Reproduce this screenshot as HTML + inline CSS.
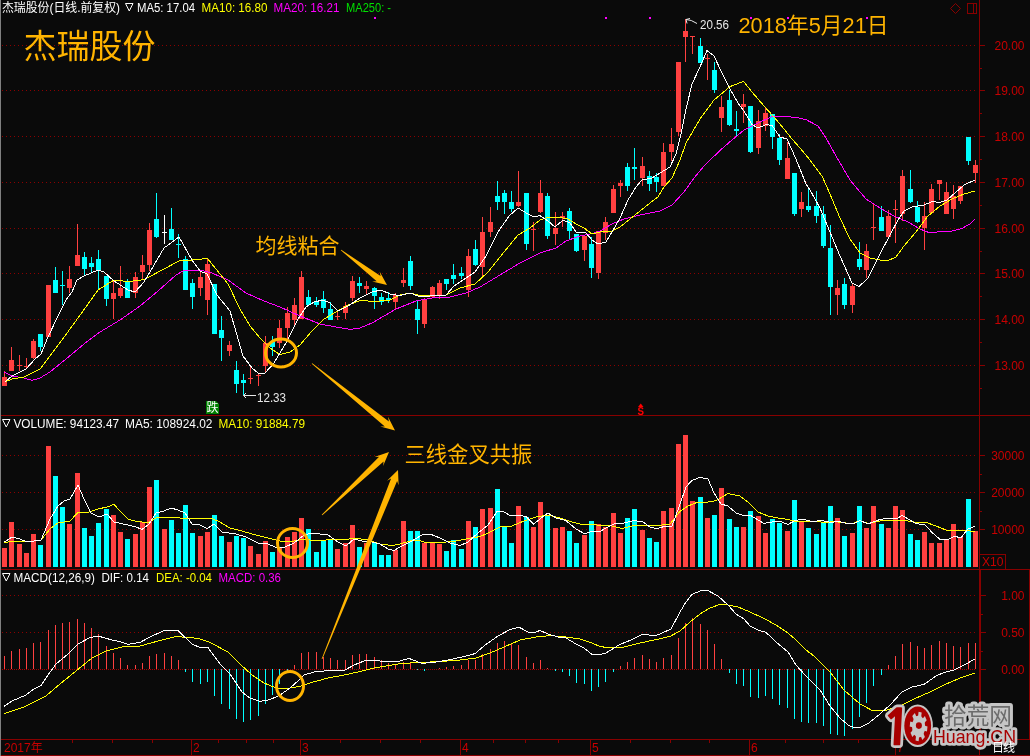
<!DOCTYPE html>
<html lang="zh"><head><meta charset="utf-8"><title>杰瑞股份 日线</title>
<style>html,body{margin:0;padding:0;background:#0a0a0a;overflow:hidden}body{width:1030px;height:756px}</style></head>
<body>
<svg width="1030" height="756" viewBox="0 0 1030 756" style="display:block;font-family:'Liberation Sans','Noto Sans CJK SC',sans-serif">
<rect width="1030" height="756" fill="#0a0a0a"/>
<rect x="0" y="0" width="1" height="756" fill="#808080" shape-rendering="crispEdges"/>
<g shape-rendering="crispEdges" stroke="#8c0000" stroke-width="1" stroke-dasharray="1,3">
<line x1="2" x2="976" y1="45.5" y2="45.5"/>
<line x1="2" x2="976" y1="90.5" y2="90.5"/>
<line x1="2" x2="976" y1="136.5" y2="136.5"/>
<line x1="2" x2="976" y1="182.5" y2="182.5"/>
<line x1="2" x2="976" y1="228.5" y2="228.5"/>
<line x1="2" x2="976" y1="273.5" y2="273.5"/>
<line x1="2" x2="976" y1="319.5" y2="319.5"/>
<line x1="2" x2="976" y1="365.5" y2="365.5"/>
<line x1="2" x2="976" y1="455.5" y2="455.5"/>
<line x1="2" x2="976" y1="492.5" y2="492.5"/>
<line x1="2" x2="976" y1="529.5" y2="529.5"/>
<line x1="2" x2="976" y1="595.5" y2="595.5"/>
<line x1="2" x2="976" y1="632.5" y2="632.5"/>
<line x1="2" x2="976" y1="669.5" y2="669.5" stroke-dasharray="1,1" stroke="#a00000"/>
</g>
<g shape-rendering="crispEdges" fill="#880000">
<rect x="1" y="415" width="1029" height="1"/>
<rect x="1" y="569" width="1029" height="1"/>
<rect x="1" y="739" width="1029" height="1"/>
<rect x="1" y="755" width="1029" height="1"/>
<rect x="979" y="0" width="1" height="756"/>
<rect x="980" y="570" width="1" height="169"/>
<rect x="1029" y="570" width="1" height="169"/>
<rect x="980" y="45" width="5" height="1"/>
<rect x="980" y="90" width="5" height="1"/>
<rect x="980" y="136" width="5" height="1"/>
<rect x="980" y="182" width="5" height="1"/>
<rect x="980" y="228" width="5" height="1"/>
<rect x="980" y="273" width="5" height="1"/>
<rect x="980" y="319" width="5" height="1"/>
<rect x="980" y="365" width="5" height="1"/>
<rect x="980" y="68" width="2" height="1"/>
<rect x="980" y="113" width="2" height="1"/>
<rect x="980" y="159" width="2" height="1"/>
<rect x="980" y="205" width="2" height="1"/>
<rect x="980" y="251" width="2" height="1"/>
<rect x="980" y="296" width="2" height="1"/>
<rect x="980" y="342" width="2" height="1"/>
<rect x="980" y="388" width="2" height="1"/>
<rect x="980" y="455" width="5" height="1"/>
<rect x="980" y="492" width="5" height="1"/>
<rect x="980" y="529" width="5" height="1"/>
<rect x="980" y="474" width="2" height="1"/>
<rect x="980" y="511" width="2" height="1"/>
<rect x="981" y="595" width="5" height="1"/>
<rect x="981" y="632" width="5" height="1"/>
<rect x="981" y="669" width="5" height="1"/>
<rect x="981" y="614" width="2" height="1"/>
<rect x="981" y="651" width="2" height="1"/>
<rect x="191" y="740" width="1" height="15"/>
<rect x="300" y="740" width="1" height="15"/>
<rect x="460" y="740" width="1" height="15"/>
<rect x="590" y="740" width="1" height="15"/>
<rect x="749" y="740" width="1" height="15"/>
<rect x="895" y="740" width="1" height="15"/>
<rect x="72" y="740" width="1" height="3"/>
<rect x="112" y="740" width="1" height="3"/>
<rect x="152" y="740" width="1" height="3"/>
<rect x="218" y="740" width="1" height="3"/>
<rect x="246" y="740" width="1" height="3"/>
<rect x="273" y="740" width="1" height="3"/>
<rect x="340" y="740" width="1" height="3"/>
<rect x="380" y="740" width="1" height="3"/>
<rect x="420" y="740" width="1" height="3"/>
<rect x="493" y="740" width="1" height="3"/>
<rect x="525" y="740" width="1" height="3"/>
<rect x="558" y="740" width="1" height="3"/>
<rect x="630" y="740" width="1" height="3"/>
<rect x="670" y="740" width="1" height="3"/>
<rect x="709" y="740" width="1" height="3"/>
<rect x="785" y="740" width="1" height="3"/>
<rect x="823" y="740" width="1" height="3"/>
<rect x="858" y="740" width="1" height="3"/>
<rect x="932" y="740" width="1" height="3"/>
<rect x="980" y="554" width="26" height="1"/><rect x="1005" y="554" width="1" height="15"/>
</g>
<g fill="#c80000" font-size="12px" text-anchor="end">
<text x="1024.5" y="49.5">20.00</text>
<text x="1024.5" y="94.5">19.00</text>
<text x="1024.5" y="140.5">18.00</text>
<text x="1024.5" y="186.5">17.00</text>
<text x="1024.5" y="232.5">16.00</text>
<text x="1024.5" y="277.5">15.00</text>
<text x="1024.5" y="323.5">14.00</text>
<text x="1024.5" y="369.5">13.00</text>
<text x="1024.5" y="459.5">30000</text>
<text x="1024.5" y="496.5">20000</text>
<text x="1024.5" y="533.5">10000</text>
<text x="1024.5" y="599.5">1.00</text>
<text x="1024.5" y="636.5">0.50</text>
<text x="1024.5" y="673.5">0.00</text>
</g>
<text x="982" y="566" fill="#c80000" font-size="12px">X10</text>
<g fill="#c80000" font-size="12px">
<text x="4" y="752">2017年</text>
<text x="193" y="752">2</text>
<text x="302" y="752">3</text>
<text x="462" y="752">4</text>
<text x="592" y="752">5</text>
<text x="751" y="752">6</text>
<text x="897" y="752">7</text>
</g>
<g fill="none" stroke="#880000" stroke-width="1" shape-rendering="crispEdges">
<path d="M950.5 8.5 L955.5 3.5 L960.5 8.5 L955.5 13.5 Z" shape-rendering="auto"/>
<rect x="967.5" y="3.5" width="9" height="10"/><line x1="973.5" y1="3.5" x2="973.5" y2="13.5"/>
</g>
<g shape-rendering="crispEdges">
<rect x="4" y="371" width="1" height="15" fill="#ff4040"/>
<rect x="2" y="377" width="5" height="9" fill="#ff4040"/>
<rect x="11" y="347" width="1" height="24" fill="#ff4040"/>
<rect x="9" y="360" width="5" height="11" fill="#ff4040"/>
<rect x="19" y="355" width="1" height="16" fill="#ff4040"/>
<rect x="17" y="365" width="5" height="1" fill="#ff4040"/>
<rect x="26" y="358" width="1" height="11" fill="#ff4040"/>
<rect x="24" y="366" width="5" height="1" fill="#ff4040"/>
<rect x="33" y="339" width="1" height="20" fill="#ff4040"/>
<rect x="31" y="341" width="5" height="17" fill="#ff4040"/>
<rect x="40" y="334" width="1" height="17" fill="#00ffff"/>
<rect x="38" y="334" width="5" height="13" fill="#00ffff"/>
<rect x="48" y="285" width="1" height="52" fill="#ff4040"/>
<rect x="46" y="285" width="5" height="52" fill="#ff4040"/>
<rect x="55" y="267" width="1" height="26" fill="#00ffff"/>
<rect x="53" y="280" width="5" height="13" fill="#00ffff"/>
<rect x="62" y="271" width="1" height="34" fill="#00ffff"/>
<rect x="60" y="285" width="5" height="1" fill="#00ffff"/>
<rect x="69" y="266" width="1" height="27" fill="#ff4040"/>
<rect x="67" y="279" width="5" height="9" fill="#ff4040"/>
<rect x="77" y="224" width="1" height="42" fill="#ff4040"/>
<rect x="75" y="255" width="5" height="11" fill="#ff4040"/>
<rect x="84" y="252" width="1" height="23" fill="#00ffff"/>
<rect x="82" y="257" width="5" height="12" fill="#00ffff"/>
<rect x="91" y="257" width="1" height="16" fill="#00ffff"/>
<rect x="89" y="263" width="5" height="4" fill="#00ffff"/>
<rect x="98" y="250" width="1" height="39" fill="#00ffff"/>
<rect x="96" y="259" width="5" height="11" fill="#00ffff"/>
<rect x="106" y="276" width="1" height="30" fill="#00ffff"/>
<rect x="104" y="276" width="5" height="23" fill="#00ffff"/>
<rect x="113" y="281" width="1" height="38" fill="#ff4040"/>
<rect x="111" y="293" width="5" height="6" fill="#ff4040"/>
<rect x="120" y="266" width="1" height="32" fill="#ff4040"/>
<rect x="118" y="288" width="5" height="8" fill="#ff4040"/>
<rect x="127" y="279" width="1" height="19" fill="#00ffff"/>
<rect x="125" y="282" width="5" height="16" fill="#00ffff"/>
<rect x="135" y="272" width="1" height="26" fill="#ff4040"/>
<rect x="133" y="277" width="5" height="16" fill="#ff4040"/>
<rect x="142" y="255" width="1" height="25" fill="#ff4040"/>
<rect x="140" y="265" width="5" height="7" fill="#ff4040"/>
<rect x="149" y="223" width="1" height="48" fill="#ff4040"/>
<rect x="147" y="230" width="5" height="35" fill="#ff4040"/>
<rect x="156" y="193" width="1" height="45" fill="#00ffff"/>
<rect x="154" y="219" width="5" height="18" fill="#00ffff"/>
<rect x="164" y="215" width="1" height="29" fill="#ffffff"/>
<rect x="162" y="232" width="5" height="1" fill="#ffffff"/>
<rect x="171" y="208" width="1" height="32" fill="#00ffff"/>
<rect x="169" y="229" width="5" height="11" fill="#00ffff"/>
<rect x="178" y="234" width="1" height="24" fill="#00ffff"/>
<rect x="176" y="244" width="5" height="1" fill="#00ffff"/>
<rect x="185" y="256" width="1" height="34" fill="#00ffff"/>
<rect x="183" y="259" width="5" height="31" fill="#00ffff"/>
<rect x="192" y="279" width="1" height="30" fill="#00ffff"/>
<rect x="190" y="283" width="5" height="14" fill="#00ffff"/>
<rect x="200" y="270" width="1" height="26" fill="#ff4040"/>
<rect x="198" y="277" width="5" height="11" fill="#ff4040"/>
<rect x="207" y="259" width="1" height="56" fill="#ff4040"/>
<rect x="205" y="264" width="5" height="36" fill="#ff4040"/>
<rect x="214" y="284" width="1" height="50" fill="#00ffff"/>
<rect x="212" y="284" width="5" height="50" fill="#00ffff"/>
<rect x="221" y="316" width="1" height="45" fill="#00ffff"/>
<rect x="219" y="330" width="5" height="8" fill="#00ffff"/>
<rect x="229" y="341" width="1" height="15" fill="#ff4040"/>
<rect x="227" y="345" width="5" height="6" fill="#ff4040"/>
<rect x="236" y="361" width="1" height="32" fill="#00ffff"/>
<rect x="234" y="370" width="5" height="14" fill="#00ffff"/>
<rect x="243" y="374" width="1" height="21" fill="#00ffff"/>
<rect x="241" y="380" width="5" height="3" fill="#00ffff"/>
<rect x="250" y="367" width="1" height="17" fill="#ff4040"/>
<rect x="248" y="378" width="5" height="1" fill="#ff4040"/>
<rect x="258" y="373" width="1" height="13" fill="#ff4040"/>
<rect x="256" y="375" width="5" height="1" fill="#ff4040"/>
<rect x="265" y="336" width="1" height="36" fill="#ff4040"/>
<rect x="263" y="343" width="5" height="23" fill="#ff4040"/>
<rect x="272" y="336" width="1" height="20" fill="#00ffff"/>
<rect x="270" y="342" width="5" height="5" fill="#00ffff"/>
<rect x="279" y="320" width="1" height="28" fill="#ff4040"/>
<rect x="277" y="328" width="5" height="15" fill="#ff4040"/>
<rect x="287" y="307" width="1" height="32" fill="#ff4040"/>
<rect x="285" y="313" width="5" height="15" fill="#ff4040"/>
<rect x="294" y="298" width="1" height="28" fill="#ff4040"/>
<rect x="292" y="305" width="5" height="15" fill="#ff4040"/>
<rect x="301" y="271" width="1" height="48" fill="#ff4040"/>
<rect x="299" y="277" width="5" height="42" fill="#ff4040"/>
<rect x="308" y="290" width="1" height="15" fill="#00ffff"/>
<rect x="306" y="297" width="5" height="8" fill="#00ffff"/>
<rect x="316" y="297" width="1" height="10" fill="#00ffff"/>
<rect x="314" y="302" width="5" height="3" fill="#00ffff"/>
<rect x="323" y="291" width="1" height="22" fill="#00ffff"/>
<rect x="321" y="299" width="5" height="9" fill="#00ffff"/>
<rect x="330" y="302" width="1" height="18" fill="#00ffff"/>
<rect x="328" y="309" width="5" height="11" fill="#00ffff"/>
<rect x="337" y="311" width="1" height="9" fill="#ff4040"/>
<rect x="335" y="316" width="5" height="1" fill="#ff4040"/>
<rect x="345" y="302" width="1" height="17" fill="#ff4040"/>
<rect x="343" y="306" width="5" height="7" fill="#ff4040"/>
<rect x="352" y="276" width="1" height="25" fill="#ff4040"/>
<rect x="350" y="281" width="5" height="17" fill="#ff4040"/>
<rect x="359" y="277" width="1" height="16" fill="#00ffff"/>
<rect x="357" y="283" width="5" height="3" fill="#00ffff"/>
<rect x="366" y="281" width="1" height="13" fill="#ff4040"/>
<rect x="364" y="286" width="5" height="3" fill="#ff4040"/>
<rect x="374" y="287" width="1" height="22" fill="#00ffff"/>
<rect x="372" y="288" width="5" height="8" fill="#00ffff"/>
<rect x="381" y="293" width="1" height="12" fill="#00ffff"/>
<rect x="379" y="297" width="5" height="5" fill="#00ffff"/>
<rect x="388" y="292" width="1" height="11" fill="#00ffff"/>
<rect x="386" y="298" width="5" height="2" fill="#00ffff"/>
<rect x="395" y="293" width="1" height="17" fill="#ff4040"/>
<rect x="393" y="295" width="5" height="7" fill="#ff4040"/>
<rect x="403" y="268" width="1" height="19" fill="#ff4040"/>
<rect x="401" y="280" width="5" height="3" fill="#ff4040"/>
<rect x="410" y="256" width="1" height="34" fill="#00ffff"/>
<rect x="408" y="261" width="5" height="25" fill="#00ffff"/>
<rect x="417" y="300" width="1" height="34" fill="#00ffff"/>
<rect x="415" y="309" width="5" height="11" fill="#00ffff"/>
<rect x="424" y="298" width="1" height="30" fill="#ff4040"/>
<rect x="422" y="300" width="5" height="24" fill="#ff4040"/>
<rect x="432" y="286" width="1" height="12" fill="#ff4040"/>
<rect x="430" y="287" width="5" height="10" fill="#ff4040"/>
<rect x="439" y="280" width="1" height="19" fill="#ff4040"/>
<rect x="437" y="283" width="5" height="13" fill="#ff4040"/>
<rect x="446" y="279" width="1" height="11" fill="#00ffff"/>
<rect x="444" y="279" width="5" height="5" fill="#00ffff"/>
<rect x="453" y="264" width="1" height="20" fill="#00ffff"/>
<rect x="451" y="275" width="5" height="4" fill="#00ffff"/>
<rect x="461" y="267" width="1" height="12" fill="#00ffff"/>
<rect x="459" y="273" width="5" height="3" fill="#00ffff"/>
<rect x="468" y="249" width="1" height="48" fill="#ff4040"/>
<rect x="466" y="256" width="5" height="34" fill="#ff4040"/>
<rect x="475" y="240" width="1" height="26" fill="#00ffff"/>
<rect x="473" y="249" width="5" height="16" fill="#00ffff"/>
<rect x="482" y="217" width="1" height="59" fill="#ff4040"/>
<rect x="480" y="232" width="5" height="35" fill="#ff4040"/>
<rect x="490" y="207" width="1" height="30" fill="#ff4040"/>
<rect x="488" y="222" width="5" height="10" fill="#ff4040"/>
<rect x="497" y="181" width="1" height="29" fill="#00ffff"/>
<rect x="495" y="196" width="5" height="6" fill="#00ffff"/>
<rect x="504" y="190" width="1" height="24" fill="#00ffff"/>
<rect x="502" y="193" width="5" height="9" fill="#00ffff"/>
<rect x="511" y="191" width="1" height="21" fill="#00ffff"/>
<rect x="509" y="202" width="5" height="7" fill="#00ffff"/>
<rect x="518" y="171" width="1" height="36" fill="#ff4040"/>
<rect x="516" y="202" width="5" height="4" fill="#ff4040"/>
<rect x="526" y="193" width="1" height="57" fill="#00ffff"/>
<rect x="524" y="193" width="5" height="51" fill="#00ffff"/>
<rect x="533" y="222" width="1" height="29" fill="#ff4040"/>
<rect x="531" y="229" width="5" height="1" fill="#ff4040"/>
<rect x="540" y="180" width="1" height="33" fill="#ff4040"/>
<rect x="538" y="193" width="5" height="19" fill="#ff4040"/>
<rect x="547" y="193" width="1" height="46" fill="#00ffff"/>
<rect x="545" y="196" width="5" height="40" fill="#00ffff"/>
<rect x="555" y="212" width="1" height="33" fill="#ff4040"/>
<rect x="553" y="228" width="5" height="6" fill="#ff4040"/>
<rect x="562" y="212" width="1" height="15" fill="#ff4040"/>
<rect x="560" y="216" width="5" height="2" fill="#ff4040"/>
<rect x="569" y="208" width="1" height="31" fill="#00ffff"/>
<rect x="567" y="211" width="5" height="20" fill="#00ffff"/>
<rect x="576" y="234" width="1" height="18" fill="#00ffff"/>
<rect x="574" y="234" width="5" height="17" fill="#00ffff"/>
<rect x="584" y="236" width="1" height="25" fill="#ff4040"/>
<rect x="582" y="236" width="5" height="14" fill="#ff4040"/>
<rect x="591" y="237" width="1" height="41" fill="#00ffff"/>
<rect x="589" y="244" width="5" height="24" fill="#00ffff"/>
<rect x="598" y="231" width="1" height="48" fill="#ff4040"/>
<rect x="596" y="231" width="5" height="42" fill="#ff4040"/>
<rect x="605" y="217" width="1" height="23" fill="#ff4040"/>
<rect x="603" y="222" width="5" height="11" fill="#ff4040"/>
<rect x="613" y="185" width="1" height="28" fill="#ff4040"/>
<rect x="611" y="189" width="5" height="24" fill="#ff4040"/>
<rect x="620" y="180" width="1" height="17" fill="#ff4040"/>
<rect x="618" y="183" width="5" height="3" fill="#ff4040"/>
<rect x="627" y="163" width="1" height="28" fill="#00ffff"/>
<rect x="625" y="167" width="5" height="19" fill="#00ffff"/>
<rect x="634" y="148" width="1" height="32" fill="#00ffff"/>
<rect x="632" y="167" width="5" height="2" fill="#00ffff"/>
<rect x="642" y="157" width="1" height="29" fill="#ff4040"/>
<rect x="640" y="166" width="5" height="12" fill="#ff4040"/>
<rect x="649" y="171" width="1" height="20" fill="#00ffff"/>
<rect x="647" y="176" width="5" height="8" fill="#00ffff"/>
<rect x="656" y="173" width="1" height="19" fill="#00ffff"/>
<rect x="654" y="177" width="5" height="5" fill="#00ffff"/>
<rect x="663" y="143" width="1" height="43" fill="#ff4040"/>
<rect x="661" y="152" width="5" height="34" fill="#ff4040"/>
<rect x="671" y="128" width="1" height="33" fill="#ff4040"/>
<rect x="669" y="144" width="5" height="8" fill="#ff4040"/>
<rect x="678" y="62" width="1" height="74" fill="#ff4040"/>
<rect x="676" y="62" width="5" height="70" fill="#ff4040"/>
<rect x="685" y="19" width="1" height="43" fill="#ff4040"/>
<rect x="683" y="31" width="5" height="6" fill="#ff4040"/>
<rect x="692" y="36" width="1" height="18" fill="#ff4040"/>
<rect x="690" y="36" width="5" height="1" fill="#ff4040"/>
<rect x="700" y="38" width="1" height="25" fill="#00ffff"/>
<rect x="698" y="46" width="5" height="17" fill="#00ffff"/>
<rect x="707" y="54" width="1" height="26" fill="#ff4040"/>
<rect x="705" y="58" width="5" height="1" fill="#ff4040"/>
<rect x="714" y="62" width="1" height="31" fill="#00ffff"/>
<rect x="712" y="70" width="5" height="20" fill="#00ffff"/>
<rect x="721" y="96" width="1" height="36" fill="#ff4040"/>
<rect x="719" y="107" width="5" height="11" fill="#ff4040"/>
<rect x="729" y="90" width="1" height="36" fill="#00ffff"/>
<rect x="727" y="100" width="5" height="25" fill="#00ffff"/>
<rect x="736" y="111" width="1" height="25" fill="#00ffff"/>
<rect x="734" y="129" width="5" height="2" fill="#00ffff"/>
<rect x="743" y="94" width="1" height="29" fill="#ff4040"/>
<rect x="741" y="104" width="5" height="3" fill="#ff4040"/>
<rect x="750" y="106" width="1" height="47" fill="#00ffff"/>
<rect x="748" y="106" width="5" height="46" fill="#00ffff"/>
<rect x="758" y="110" width="1" height="44" fill="#ff4040"/>
<rect x="756" y="121" width="5" height="27" fill="#ff4040"/>
<rect x="765" y="107" width="1" height="24" fill="#ff4040"/>
<rect x="763" y="113" width="5" height="13" fill="#ff4040"/>
<rect x="772" y="114" width="1" height="35" fill="#00ffff"/>
<rect x="770" y="114" width="5" height="23" fill="#00ffff"/>
<rect x="779" y="134" width="1" height="31" fill="#00ffff"/>
<rect x="777" y="138" width="5" height="22" fill="#00ffff"/>
<rect x="787" y="142" width="1" height="37" fill="#ff4040"/>
<rect x="785" y="158" width="5" height="21" fill="#ff4040"/>
<rect x="794" y="173" width="1" height="43" fill="#00ffff"/>
<rect x="792" y="173" width="5" height="41" fill="#00ffff"/>
<rect x="801" y="192" width="1" height="25" fill="#ff4040"/>
<rect x="799" y="202" width="5" height="7" fill="#ff4040"/>
<rect x="808" y="189" width="1" height="23" fill="#00ffff"/>
<rect x="806" y="206" width="5" height="4" fill="#00ffff"/>
<rect x="816" y="191" width="1" height="32" fill="#00ffff"/>
<rect x="814" y="206" width="5" height="10" fill="#00ffff"/>
<rect x="823" y="206" width="1" height="42" fill="#00ffff"/>
<rect x="821" y="214" width="5" height="32" fill="#00ffff"/>
<rect x="830" y="225" width="1" height="90" fill="#00ffff"/>
<rect x="828" y="248" width="5" height="39" fill="#00ffff"/>
<rect x="837" y="280" width="1" height="35" fill="#ff4040"/>
<rect x="835" y="288" width="5" height="7" fill="#ff4040"/>
<rect x="844" y="278" width="1" height="31" fill="#00ffff"/>
<rect x="842" y="284" width="5" height="21" fill="#00ffff"/>
<rect x="852" y="283" width="1" height="30" fill="#ff4040"/>
<rect x="850" y="286" width="5" height="19" fill="#ff4040"/>
<rect x="859" y="242" width="1" height="28" fill="#00ffff"/>
<rect x="857" y="259" width="5" height="8" fill="#00ffff"/>
<rect x="866" y="244" width="1" height="34" fill="#ff4040"/>
<rect x="864" y="251" width="5" height="19" fill="#ff4040"/>
<rect x="873" y="204" width="1" height="36" fill="#ff4040"/>
<rect x="871" y="227" width="5" height="1" fill="#ff4040"/>
<rect x="881" y="206" width="1" height="25" fill="#00ffff"/>
<rect x="879" y="217" width="5" height="14" fill="#00ffff"/>
<rect x="888" y="210" width="1" height="27" fill="#ff4040"/>
<rect x="886" y="216" width="5" height="21" fill="#ff4040"/>
<rect x="895" y="200" width="1" height="43" fill="#ff4040"/>
<rect x="893" y="209" width="5" height="1" fill="#ff4040"/>
<rect x="902" y="170" width="1" height="51" fill="#ff4040"/>
<rect x="900" y="176" width="5" height="38" fill="#ff4040"/>
<rect x="910" y="170" width="1" height="33" fill="#00ffff"/>
<rect x="908" y="189" width="5" height="13" fill="#00ffff"/>
<rect x="917" y="201" width="1" height="22" fill="#00ffff"/>
<rect x="915" y="207" width="5" height="15" fill="#00ffff"/>
<rect x="924" y="202" width="1" height="48" fill="#ff4040"/>
<rect x="922" y="216" width="5" height="12" fill="#ff4040"/>
<rect x="931" y="184" width="1" height="29" fill="#ff4040"/>
<rect x="929" y="189" width="5" height="24" fill="#ff4040"/>
<rect x="939" y="180" width="1" height="20" fill="#ff4040"/>
<rect x="937" y="180" width="5" height="4" fill="#ff4040"/>
<rect x="946" y="182" width="1" height="32" fill="#ff4040"/>
<rect x="944" y="192" width="5" height="22" fill="#ff4040"/>
<rect x="953" y="185" width="1" height="34" fill="#ff4040"/>
<rect x="951" y="196" width="5" height="13" fill="#ff4040"/>
<rect x="960" y="186" width="1" height="18" fill="#ff4040"/>
<rect x="958" y="186" width="5" height="15" fill="#ff4040"/>
<rect x="968" y="137" width="1" height="28" fill="#00ffff"/>
<rect x="966" y="137" width="5" height="24" fill="#00ffff"/>
<rect x="975" y="160" width="1" height="23" fill="#ff4040"/>
<rect x="973" y="165" width="5" height="8" fill="#ff4040"/>
<rect x="2" y="548" width="5" height="19" fill="#ff4040"/>
<rect x="9" y="522" width="5" height="45" fill="#ff4040"/>
<rect x="17" y="544" width="5" height="23" fill="#ff4040"/>
<rect x="24" y="553" width="5" height="14" fill="#ff4040"/>
<rect x="31" y="534" width="5" height="33" fill="#ff4040"/>
<rect x="38" y="545" width="5" height="22" fill="#00ffff"/>
<rect x="46" y="446" width="5" height="121" fill="#ff4040"/>
<rect x="53" y="476" width="5" height="91" fill="#00ffff"/>
<rect x="60" y="507" width="5" height="60" fill="#00ffff"/>
<rect x="67" y="524" width="5" height="43" fill="#ff4040"/>
<rect x="75" y="473" width="5" height="94" fill="#ff4040"/>
<rect x="82" y="528" width="5" height="39" fill="#00ffff"/>
<rect x="89" y="536" width="5" height="31" fill="#00ffff"/>
<rect x="96" y="523" width="5" height="44" fill="#00ffff"/>
<rect x="104" y="509" width="5" height="58" fill="#00ffff"/>
<rect x="111" y="515" width="5" height="52" fill="#ff4040"/>
<rect x="118" y="532" width="5" height="35" fill="#ff4040"/>
<rect x="125" y="539" width="5" height="28" fill="#00ffff"/>
<rect x="133" y="534" width="5" height="33" fill="#ff4040"/>
<rect x="140" y="522" width="5" height="45" fill="#ff4040"/>
<rect x="147" y="487" width="5" height="80" fill="#ff4040"/>
<rect x="154" y="480" width="5" height="87" fill="#00ffff"/>
<rect x="162" y="529" width="5" height="38" fill="#ff4040"/>
<rect x="169" y="520" width="5" height="47" fill="#00ffff"/>
<rect x="176" y="533" width="5" height="34" fill="#00ffff"/>
<rect x="183" y="505" width="5" height="62" fill="#00ffff"/>
<rect x="190" y="533" width="5" height="34" fill="#00ffff"/>
<rect x="198" y="536" width="5" height="31" fill="#ff4040"/>
<rect x="205" y="532" width="5" height="35" fill="#ff4040"/>
<rect x="212" y="515" width="5" height="52" fill="#00ffff"/>
<rect x="219" y="536" width="5" height="31" fill="#00ffff"/>
<rect x="227" y="542" width="5" height="25" fill="#ff4040"/>
<rect x="234" y="536" width="5" height="31" fill="#00ffff"/>
<rect x="241" y="538" width="5" height="29" fill="#00ffff"/>
<rect x="248" y="546" width="5" height="21" fill="#ff4040"/>
<rect x="256" y="554" width="5" height="13" fill="#ff4040"/>
<rect x="263" y="541" width="5" height="26" fill="#ff4040"/>
<rect x="270" y="552" width="5" height="15" fill="#00ffff"/>
<rect x="277" y="548" width="5" height="19" fill="#ff4040"/>
<rect x="285" y="537" width="5" height="30" fill="#ff4040"/>
<rect x="292" y="532" width="5" height="35" fill="#ff4040"/>
<rect x="299" y="518" width="5" height="49" fill="#ff4040"/>
<rect x="306" y="529" width="5" height="38" fill="#00ffff"/>
<rect x="314" y="552" width="5" height="15" fill="#00ffff"/>
<rect x="321" y="541" width="5" height="26" fill="#00ffff"/>
<rect x="328" y="539" width="5" height="28" fill="#00ffff"/>
<rect x="335" y="549" width="5" height="18" fill="#ff4040"/>
<rect x="343" y="543" width="5" height="24" fill="#ff4040"/>
<rect x="350" y="525" width="5" height="42" fill="#ff4040"/>
<rect x="357" y="547" width="5" height="20" fill="#00ffff"/>
<rect x="364" y="543" width="5" height="24" fill="#ff4040"/>
<rect x="372" y="542" width="5" height="25" fill="#00ffff"/>
<rect x="379" y="555" width="5" height="12" fill="#00ffff"/>
<rect x="386" y="555" width="5" height="12" fill="#00ffff"/>
<rect x="393" y="550" width="5" height="17" fill="#ff4040"/>
<rect x="401" y="521" width="5" height="46" fill="#ff4040"/>
<rect x="408" y="531" width="5" height="36" fill="#00ffff"/>
<rect x="415" y="531" width="5" height="36" fill="#00ffff"/>
<rect x="422" y="543" width="5" height="24" fill="#ff4040"/>
<rect x="430" y="543" width="5" height="24" fill="#ff4040"/>
<rect x="437" y="544" width="5" height="23" fill="#ff4040"/>
<rect x="444" y="551" width="5" height="16" fill="#00ffff"/>
<rect x="451" y="540" width="5" height="27" fill="#00ffff"/>
<rect x="459" y="549" width="5" height="18" fill="#00ffff"/>
<rect x="466" y="521" width="5" height="46" fill="#ff4040"/>
<rect x="473" y="527" width="5" height="40" fill="#00ffff"/>
<rect x="480" y="509" width="5" height="58" fill="#ff4040"/>
<rect x="488" y="508" width="5" height="59" fill="#ff4040"/>
<rect x="495" y="489" width="5" height="78" fill="#00ffff"/>
<rect x="502" y="527" width="5" height="40" fill="#00ffff"/>
<rect x="509" y="543" width="5" height="24" fill="#00ffff"/>
<rect x="516" y="506" width="5" height="61" fill="#ff4040"/>
<rect x="524" y="517" width="5" height="50" fill="#00ffff"/>
<rect x="531" y="527" width="5" height="40" fill="#ff4040"/>
<rect x="538" y="502" width="5" height="65" fill="#ff4040"/>
<rect x="545" y="515" width="5" height="52" fill="#00ffff"/>
<rect x="553" y="528" width="5" height="39" fill="#ff4040"/>
<rect x="560" y="527" width="5" height="40" fill="#ff4040"/>
<rect x="567" y="531" width="5" height="36" fill="#00ffff"/>
<rect x="574" y="543" width="5" height="24" fill="#00ffff"/>
<rect x="582" y="535" width="5" height="32" fill="#ff4040"/>
<rect x="589" y="521" width="5" height="46" fill="#00ffff"/>
<rect x="596" y="524" width="5" height="43" fill="#ff4040"/>
<rect x="603" y="527" width="5" height="40" fill="#ff4040"/>
<rect x="611" y="513" width="5" height="54" fill="#ff4040"/>
<rect x="618" y="533" width="5" height="34" fill="#ff4040"/>
<rect x="625" y="518" width="5" height="49" fill="#00ffff"/>
<rect x="632" y="509" width="5" height="58" fill="#00ffff"/>
<rect x="640" y="530" width="5" height="37" fill="#ff4040"/>
<rect x="647" y="538" width="5" height="29" fill="#00ffff"/>
<rect x="654" y="542" width="5" height="25" fill="#00ffff"/>
<rect x="661" y="511" width="5" height="56" fill="#ff4040"/>
<rect x="669" y="508" width="5" height="59" fill="#ff4040"/>
<rect x="676" y="444" width="5" height="123" fill="#ff4040"/>
<rect x="683" y="435" width="5" height="132" fill="#ff4040"/>
<rect x="690" y="501" width="5" height="66" fill="#ff4040"/>
<rect x="698" y="497" width="5" height="70" fill="#00ffff"/>
<rect x="705" y="518" width="5" height="49" fill="#ff4040"/>
<rect x="712" y="515" width="5" height="52" fill="#00ffff"/>
<rect x="719" y="488" width="5" height="79" fill="#ff4040"/>
<rect x="727" y="519" width="5" height="48" fill="#00ffff"/>
<rect x="734" y="527" width="5" height="40" fill="#00ffff"/>
<rect x="741" y="527" width="5" height="40" fill="#ff4040"/>
<rect x="748" y="511" width="5" height="56" fill="#00ffff"/>
<rect x="756" y="516" width="5" height="51" fill="#ff4040"/>
<rect x="763" y="533" width="5" height="34" fill="#ff4040"/>
<rect x="770" y="519" width="5" height="48" fill="#00ffff"/>
<rect x="777" y="523" width="5" height="44" fill="#00ffff"/>
<rect x="785" y="531" width="5" height="36" fill="#ff4040"/>
<rect x="792" y="500" width="5" height="67" fill="#00ffff"/>
<rect x="799" y="521" width="5" height="46" fill="#ff4040"/>
<rect x="806" y="528" width="5" height="39" fill="#00ffff"/>
<rect x="814" y="534" width="5" height="33" fill="#00ffff"/>
<rect x="821" y="523" width="5" height="44" fill="#00ffff"/>
<rect x="828" y="506" width="5" height="61" fill="#00ffff"/>
<rect x="835" y="518" width="5" height="49" fill="#ff4040"/>
<rect x="842" y="536" width="5" height="31" fill="#00ffff"/>
<rect x="850" y="533" width="5" height="34" fill="#ff4040"/>
<rect x="857" y="506" width="5" height="61" fill="#00ffff"/>
<rect x="864" y="528" width="5" height="39" fill="#ff4040"/>
<rect x="871" y="506" width="5" height="61" fill="#ff4040"/>
<rect x="879" y="524" width="5" height="43" fill="#00ffff"/>
<rect x="886" y="528" width="5" height="39" fill="#ff4040"/>
<rect x="893" y="506" width="5" height="61" fill="#ff4040"/>
<rect x="900" y="510" width="5" height="57" fill="#ff4040"/>
<rect x="908" y="534" width="5" height="33" fill="#00ffff"/>
<rect x="915" y="540" width="5" height="27" fill="#00ffff"/>
<rect x="922" y="532" width="5" height="35" fill="#ff4040"/>
<rect x="929" y="543" width="5" height="24" fill="#ff4040"/>
<rect x="937" y="543" width="5" height="24" fill="#ff4040"/>
<rect x="944" y="539" width="5" height="28" fill="#ff4040"/>
<rect x="951" y="524" width="5" height="43" fill="#ff4040"/>
<rect x="958" y="537" width="5" height="30" fill="#ff4040"/>
<rect x="966" y="499" width="5" height="68" fill="#00ffff"/>
<rect x="973" y="531" width="5" height="36" fill="#ff4040"/>
<rect x="4" y="656" width="1" height="13" fill="#ff4040"/>
<rect x="11" y="651" width="1" height="18" fill="#ff4040"/>
<rect x="19" y="649" width="1" height="20" fill="#ff4040"/>
<rect x="26" y="648" width="1" height="21" fill="#ff4040"/>
<rect x="33" y="643" width="1" height="26" fill="#ff4040"/>
<rect x="40" y="642" width="1" height="27" fill="#ff4040"/>
<rect x="48" y="630" width="1" height="39" fill="#ff4040"/>
<rect x="55" y="625" width="1" height="44" fill="#ff4040"/>
<rect x="62" y="623" width="1" height="46" fill="#ff4040"/>
<rect x="69" y="622" width="1" height="47" fill="#ff4040"/>
<rect x="77" y="619" width="1" height="50" fill="#ff4040"/>
<rect x="84" y="623" width="1" height="46" fill="#ff4040"/>
<rect x="91" y="628" width="1" height="41" fill="#ff4040"/>
<rect x="98" y="634" width="1" height="35" fill="#ff4040"/>
<rect x="106" y="646" width="1" height="23" fill="#ff4040"/>
<rect x="113" y="653" width="1" height="16" fill="#ff4040"/>
<rect x="120" y="658" width="1" height="11" fill="#ff4040"/>
<rect x="127" y="665" width="1" height="4" fill="#ff4040"/>
<rect x="135" y="665" width="1" height="4" fill="#ff4040"/>
<rect x="142" y="663" width="1" height="6" fill="#ff4040"/>
<rect x="149" y="656" width="1" height="13" fill="#ff4040"/>
<rect x="156" y="654" width="1" height="15" fill="#ff4040"/>
<rect x="164" y="653" width="1" height="16" fill="#ff4040"/>
<rect x="171" y="656" width="1" height="13" fill="#ff4040"/>
<rect x="178" y="660" width="1" height="9" fill="#ff4040"/>
<rect x="185" y="669" width="1" height="3" fill="#00ffff"/>
<rect x="192" y="669" width="1" height="13" fill="#00ffff"/>
<rect x="200" y="669" width="1" height="15" fill="#00ffff"/>
<rect x="207" y="669" width="1" height="13" fill="#00ffff"/>
<rect x="214" y="669" width="1" height="27" fill="#00ffff"/>
<rect x="221" y="669" width="1" height="35" fill="#00ffff"/>
<rect x="229" y="669" width="1" height="40" fill="#00ffff"/>
<rect x="236" y="669" width="1" height="50" fill="#00ffff"/>
<rect x="243" y="669" width="1" height="53" fill="#00ffff"/>
<rect x="250" y="669" width="1" height="51" fill="#00ffff"/>
<rect x="258" y="669" width="1" height="47" fill="#00ffff"/>
<rect x="265" y="669" width="1" height="35" fill="#00ffff"/>
<rect x="272" y="669" width="1" height="26" fill="#00ffff"/>
<rect x="279" y="669" width="1" height="15" fill="#00ffff"/>
<rect x="287" y="669" width="1" height="3" fill="#00ffff"/>
<rect x="294" y="665" width="1" height="4" fill="#ff4040"/>
<rect x="301" y="653" width="1" height="16" fill="#ff4040"/>
<rect x="308" y="652" width="1" height="17" fill="#ff4040"/>
<rect x="316" y="652" width="1" height="17" fill="#ff4040"/>
<rect x="323" y="657" width="1" height="12" fill="#ff4040"/>
<rect x="330" y="658" width="1" height="11" fill="#ff4040"/>
<rect x="337" y="660" width="1" height="9" fill="#ff4040"/>
<rect x="345" y="660" width="1" height="9" fill="#ff4040"/>
<rect x="352" y="655" width="1" height="14" fill="#ff4040"/>
<rect x="359" y="654" width="1" height="15" fill="#ff4040"/>
<rect x="366" y="654" width="1" height="15" fill="#ff4040"/>
<rect x="374" y="657" width="1" height="12" fill="#ff4040"/>
<rect x="381" y="660" width="1" height="9" fill="#ff4040"/>
<rect x="388" y="663" width="1" height="6" fill="#ff4040"/>
<rect x="395" y="664" width="1" height="5" fill="#ff4040"/>
<rect x="403" y="662" width="1" height="7" fill="#ff4040"/>
<rect x="410" y="663" width="1" height="6" fill="#ff4040"/>
<rect x="417" y="669" width="1" height="1" fill="#00ffff"/>
<rect x="424" y="669" width="1" height="2" fill="#00ffff"/>
<rect x="439" y="668" width="1" height="1" fill="#ff4040"/>
<rect x="446" y="667" width="1" height="2" fill="#ff4040"/>
<rect x="453" y="666" width="1" height="3" fill="#ff4040"/>
<rect x="461" y="665" width="1" height="4" fill="#ff4040"/>
<rect x="468" y="660" width="1" height="9" fill="#ff4040"/>
<rect x="475" y="660" width="1" height="9" fill="#ff4040"/>
<rect x="482" y="654" width="1" height="15" fill="#ff4040"/>
<rect x="490" y="649" width="1" height="20" fill="#ff4040"/>
<rect x="497" y="643" width="1" height="26" fill="#ff4040"/>
<rect x="504" y="641" width="1" height="28" fill="#ff4040"/>
<rect x="511" y="644" width="1" height="25" fill="#ff4040"/>
<rect x="518" y="645" width="1" height="24" fill="#ff4040"/>
<rect x="526" y="657" width="1" height="12" fill="#ff4040"/>
<rect x="533" y="663" width="1" height="6" fill="#ff4040"/>
<rect x="540" y="660" width="1" height="9" fill="#ff4040"/>
<rect x="547" y="668" width="1" height="1" fill="#ff4040"/>
<rect x="555" y="669" width="1" height="2" fill="#00ffff"/>
<rect x="562" y="669" width="1" height="3" fill="#00ffff"/>
<rect x="569" y="669" width="1" height="7" fill="#00ffff"/>
<rect x="576" y="669" width="1" height="14" fill="#00ffff"/>
<rect x="584" y="669" width="1" height="15" fill="#00ffff"/>
<rect x="591" y="669" width="1" height="22" fill="#00ffff"/>
<rect x="598" y="669" width="1" height="18" fill="#00ffff"/>
<rect x="605" y="669" width="1" height="13" fill="#00ffff"/>
<rect x="613" y="669" width="1" height="3" fill="#00ffff"/>
<rect x="620" y="666" width="1" height="3" fill="#ff4040"/>
<rect x="627" y="662" width="1" height="7" fill="#ff4040"/>
<rect x="634" y="658" width="1" height="11" fill="#ff4040"/>
<rect x="642" y="655" width="1" height="14" fill="#ff4040"/>
<rect x="649" y="659" width="1" height="10" fill="#ff4040"/>
<rect x="656" y="662" width="1" height="7" fill="#ff4040"/>
<rect x="663" y="658" width="1" height="11" fill="#ff4040"/>
<rect x="671" y="655" width="1" height="14" fill="#ff4040"/>
<rect x="678" y="638" width="1" height="31" fill="#ff4040"/>
<rect x="685" y="623" width="1" height="46" fill="#ff4040"/>
<rect x="692" y="618" width="1" height="51" fill="#ff4040"/>
<rect x="700" y="624" width="1" height="45" fill="#ff4040"/>
<rect x="707" y="630" width="1" height="39" fill="#ff4040"/>
<rect x="714" y="644" width="1" height="25" fill="#ff4040"/>
<rect x="721" y="659" width="1" height="10" fill="#ff4040"/>
<rect x="729" y="669" width="1" height="4" fill="#00ffff"/>
<rect x="736" y="669" width="1" height="15" fill="#00ffff"/>
<rect x="743" y="669" width="1" height="17" fill="#00ffff"/>
<rect x="750" y="669" width="1" height="28" fill="#00ffff"/>
<rect x="758" y="669" width="1" height="29" fill="#00ffff"/>
<rect x="765" y="669" width="1" height="27" fill="#00ffff"/>
<rect x="772" y="669" width="1" height="30" fill="#00ffff"/>
<rect x="779" y="669" width="1" height="36" fill="#00ffff"/>
<rect x="787" y="669" width="1" height="39" fill="#00ffff"/>
<rect x="794" y="669" width="1" height="50" fill="#00ffff"/>
<rect x="801" y="669" width="1" height="53" fill="#00ffff"/>
<rect x="808" y="669" width="1" height="54" fill="#00ffff"/>
<rect x="816" y="669" width="1" height="54" fill="#00ffff"/>
<rect x="823" y="669" width="1" height="57" fill="#00ffff"/>
<rect x="830" y="669" width="1" height="65" fill="#00ffff"/>
<rect x="837" y="669" width="1" height="66" fill="#00ffff"/>
<rect x="844" y="669" width="1" height="67" fill="#00ffff"/>
<rect x="852" y="669" width="1" height="60" fill="#00ffff"/>
<rect x="859" y="669" width="1" height="48" fill="#00ffff"/>
<rect x="866" y="669" width="1" height="34" fill="#00ffff"/>
<rect x="873" y="669" width="1" height="17" fill="#00ffff"/>
<rect x="881" y="669" width="1" height="6" fill="#00ffff"/>
<rect x="888" y="665" width="1" height="4" fill="#ff4040"/>
<rect x="895" y="656" width="1" height="13" fill="#ff4040"/>
<rect x="902" y="644" width="1" height="25" fill="#ff4040"/>
<rect x="910" y="642" width="1" height="27" fill="#ff4040"/>
<rect x="917" y="646" width="1" height="23" fill="#ff4040"/>
<rect x="924" y="648" width="1" height="21" fill="#ff4040"/>
<rect x="931" y="645" width="1" height="24" fill="#ff4040"/>
<rect x="939" y="641" width="1" height="28" fill="#ff4040"/>
<rect x="946" y="643" width="1" height="26" fill="#ff4040"/>
<rect x="953" y="646" width="1" height="23" fill="#ff4040"/>
<rect x="960" y="647" width="1" height="22" fill="#ff4040"/>
<rect x="968" y="643" width="1" height="26" fill="#ff4040"/>
<rect x="975" y="643" width="1" height="26" fill="#ff4040"/>
</g>
<polyline points="4.0,372.0 12.0,376.0 24.0,378.0 32.0,380.4 40.0,378.0 50.0,372.0 66.0,359.0 84.0,344.0 100.0,332.0 120.0,320.0 140.0,306.0 158.0,291.0 176.0,275.0 184.0,270.4 200.0,270.0 212.0,273.0 228.0,280.0 246.0,293.0 264.0,301.0 280.0,307.0 300.0,316.0 320.0,324.0 336.0,327.0 350.0,329.4 360.0,328.0 372.0,323.0 384.0,316.0 396.0,309.0 406.0,305.0 416.0,301.0 432.0,298.0 450.0,297.0 466.0,293.0 480.0,287.0 500.0,275.0 520.0,263.0 540.0,253.0 556.0,248.0 566.0,241.0 580.0,236.0 592.0,233.6 600.0,231.0 612.0,224.0 624.0,219.0 640.0,215.0 660.0,211.0 672.0,205.0 684.0,192.0 694.0,178.0 704.0,166.0 720.0,150.5 732.0,140.0 744.0,130.0 758.0,123.0 772.0,116.6 784.0,116.4 796.0,117.4 806.0,119.6 818.0,126.0 826.0,138.0 836.0,156.0 850.0,180.0 866.0,199.0 880.0,208.0 894.0,216.0 908.0,222.0 920.0,229.0 930.0,233.0 940.0,231.6 952.0,231.0 962.0,228.4 970.0,224.0 975.0,219.0" fill="none" stroke="#ff00ff" stroke-width="1" shape-rendering="crispEdges"/>
<polyline points="5.0,382.0 12.0,379.0 24.0,377.0 40.0,369.0 50.0,356.0 62.0,340.0 78.0,318.0 98.0,290.0 114.0,280.0 128.0,281.6 144.0,279.6 164.0,269.0 179.0,261.0 192.0,260.0 200.0,259.4 207.0,258.0 216.0,269.0 228.0,284.0 240.0,309.0 250.0,326.0 260.0,338.0 270.0,348.0 280.0,354.6 290.0,352.0 300.0,345.0 312.0,331.0 324.0,319.0 336.0,312.0 348.0,305.0 360.0,300.6 376.0,301.4 390.0,300.0 400.0,295.0 410.0,293.0 420.0,295.4 446.0,295.0 460.0,288.0 475.0,284.0 488.0,272.0 504.0,252.0 518.0,235.0 530.0,228.0 540.0,220.0 548.0,217.4 560.0,217.4 568.0,219.0 576.0,224.0 584.0,228.0 592.0,234.0 600.0,232.0 612.0,231.0 620.0,227.0 630.0,219.0 640.0,211.0 650.0,203.0 658.0,197.0 664.0,187.0 672.0,178.0 680.0,160.0 686.0,143.0 700.0,119.0 714.0,100.0 730.0,86.6 743.6,81.4 752.0,92.0 764.0,106.0 774.0,117.0 784.0,129.0 792.0,139.0 800.0,148.0 810.0,160.0 822.0,176.0 830.0,194.0 840.0,218.0 850.0,239.0 860.0,253.0 870.0,258.0 880.0,260.0 888.0,260.6 896.0,257.0 904.0,246.0 916.0,232.0 928.0,216.0 940.0,206.0 952.0,199.0 964.0,194.0 975.0,191.0" fill="none" stroke="#ffff00" stroke-width="1" shape-rendering="crispEdges"/>
<polyline points="5.0,382.0 12.0,376.0 26.0,369.0 35.0,359.0 41.0,354.0 48.0,337.0 58.0,316.0 66.0,300.0 72.0,292.0 77.0,280.0 84.0,276.0 98.0,270.0 104.0,272.0 114.0,281.0 128.0,290.0 135.0,292.0 144.0,282.0 164.0,248.0 179.0,237.0 192.0,260.0 200.0,271.0 207.0,274.0 217.0,295.0 230.0,311.0 243.0,356.0 252.0,368.0 258.0,373.0 265.0,373.0 274.0,363.0 286.0,343.0 298.0,319.0 306.0,307.0 314.0,302.0 323.0,300.0 330.0,303.0 338.0,311.0 348.0,306.0 360.0,298.0 372.0,292.0 381.0,290.0 390.0,294.0 400.0,295.6 410.0,293.0 418.0,296.0 430.0,296.0 446.0,295.0 454.0,286.0 466.0,278.0 475.0,272.0 486.0,256.0 498.0,232.0 509.0,216.0 518.0,208.0 528.0,214.0 534.0,217.0 540.0,215.6 548.0,221.0 555.0,227.0 563.0,220.0 570.0,223.0 576.0,232.0 586.0,233.0 592.0,240.0 598.0,244.0 606.0,242.0 612.0,232.0 620.0,218.0 628.0,200.0 636.0,187.0 642.0,180.0 652.0,178.0 660.0,173.0 670.0,167.0 676.0,154.0 681.0,134.0 686.0,109.0 692.0,84.0 700.0,67.0 707.0,50.6 714.0,56.0 722.0,73.0 730.0,89.0 738.0,103.0 744.0,111.0 752.0,124.6 758.0,128.0 766.0,124.6 772.0,125.4 780.0,137.0 787.0,139.0 792.0,150.0 798.0,164.0 806.0,184.0 810.0,190.0 820.0,208.0 830.0,232.0 840.0,256.0 852.0,283.0 859.0,286.6 868.0,278.0 880.0,254.0 890.0,235.0 898.0,220.0 904.0,211.0 912.0,207.0 924.0,205.0 932.0,201.6 940.0,202.4 947.0,200.0 955.0,193.0 964.0,185.0 975.0,180.0" fill="none" stroke="#ffffff" stroke-width="1" shape-rendering="crispEdges"/>
<polyline points="4.4,543.0 12.0,541.0 27.0,542.0 41.0,540.0 50.0,529.0 58.0,523.0 70.0,521.0 78.0,512.4 86.0,513.0 98.0,509.0 107.0,507.0 114.0,504.4 120.0,511.0 128.0,519.0 136.0,521.4 148.0,522.6 156.0,518.0 172.0,517.4 188.0,518.6 200.0,518.6 210.0,518.0 218.0,521.0 230.0,528.0 242.0,531.0 254.0,534.6 268.0,538.0 280.0,541.0 292.0,541.4 304.0,539.0 316.0,541.0 332.0,539.4 344.0,540.0 354.0,538.0 368.0,540.0 380.0,544.0 392.0,545.6 400.0,544.0 410.0,541.0 418.0,540.0 426.0,542.6 440.0,542.6 456.0,541.0 468.0,538.6 480.0,536.6 490.0,532.0 500.0,527.0 512.0,526.0 524.0,521.0 536.0,517.0 548.0,515.0 560.0,518.0 572.0,522.0 580.0,524.0 592.0,524.0 600.0,525.6 612.0,526.0 622.0,528.6 634.0,525.6 646.0,525.0 658.0,525.6 670.0,524.0 680.0,511.4 688.0,506.0 698.0,502.0 706.0,502.4 716.0,500.6 728.0,493.6 740.0,496.0 748.0,502.0 758.0,512.0 768.0,516.0 778.0,518.0 788.0,519.4 796.0,521.4 812.0,521.4 824.0,522.2 836.0,521.8 846.0,523.0 854.0,523.0 860.0,520.6 868.0,523.4 880.0,521.0 894.0,520.4 906.0,520.6 916.0,522.4 926.0,522.4 936.0,526.0 946.0,530.0 958.0,530.6 968.0,530.6 975.0,532.0" fill="none" stroke="#ffff00" stroke-width="1" shape-rendering="crispEdges"/>
<polyline points="4.4,542.0 12.0,537.0 20.0,539.0 27.0,542.0 34.0,541.0 41.0,540.0 50.0,519.0 58.0,506.0 64.0,501.0 70.0,499.0 78.0,485.0 84.0,499.0 91.0,513.0 99.0,517.0 107.0,514.0 114.0,522.0 128.0,525.0 136.0,527.0 142.0,529.4 149.0,524.0 156.0,513.0 164.0,511.0 171.0,508.0 178.0,510.0 185.0,513.0 192.0,524.0 200.0,525.0 207.0,528.6 214.0,524.0 222.0,532.0 236.0,534.0 246.0,537.0 258.0,543.0 268.0,544.0 276.0,547.4 284.0,547.4 294.0,543.0 304.0,535.0 312.0,533.0 328.0,535.0 338.0,542.0 346.0,546.0 354.0,539.0 362.0,541.0 372.0,542.0 380.0,544.0 388.0,549.0 394.0,550.6 400.0,547.0 410.0,542.0 422.0,535.0 430.0,534.0 440.0,538.0 450.0,543.0 460.0,545.6 468.0,542.0 478.0,533.0 488.0,525.0 497.0,511.4 504.0,512.0 511.0,516.0 518.0,515.0 526.0,516.6 533.6,524.0 540.0,519.0 548.0,513.0 556.0,518.0 566.0,520.6 576.0,529.0 585.0,534.0 592.0,531.0 600.0,531.4 606.0,528.0 614.0,524.0 624.0,523.0 634.0,520.4 643.0,522.0 650.0,527.0 657.0,528.6 664.0,526.6 672.0,526.0 679.0,507.0 686.0,487.0 692.0,480.4 700.0,477.4 708.0,479.0 714.0,493.0 721.0,504.0 728.0,506.0 736.0,513.0 744.0,515.6 750.0,515.0 758.0,520.0 764.0,523.4 772.0,522.0 780.0,521.4 788.0,524.4 795.0,520.6 802.0,519.0 812.0,521.4 822.0,520.6 832.0,522.6 838.0,521.0 846.0,523.4 854.0,523.4 860.0,520.4 868.0,524.0 880.0,519.4 888.0,518.4 896.0,519.0 902.4,515.4 908.0,519.0 916.0,523.6 925.0,525.0 932.0,532.4 940.0,539.4 948.0,539.4 954.0,536.4 961.0,537.6 968.0,529.0 975.0,526.4" fill="none" stroke="#ffffff" stroke-width="1" shape-rendering="crispEdges"/>
<polyline points="4.0,713.6 24.0,707.0 46.0,696.0 60.0,684.0 76.0,671.0 92.0,658.0 106.0,651.0 124.0,646.6 140.0,646.0 156.0,641.6 176.0,636.6 192.0,637.6 200.0,639.0 210.0,642.4 228.0,652.0 240.0,664.0 252.0,675.0 264.0,683.0 276.0,688.0 288.0,688.4 300.0,686.4 312.0,682.4 328.0,678.0 344.0,675.0 360.0,671.6 376.0,667.6 392.0,665.0 400.0,663.6 420.0,662.4 440.0,661.6 460.0,660.0 476.0,658.0 490.0,653.0 504.0,647.0 520.0,640.0 536.0,637.0 550.0,635.6 566.0,637.0 580.0,639.0 592.0,643.0 600.0,646.6 612.0,648.0 624.0,647.0 640.0,643.0 656.0,639.6 670.0,636.4 680.0,631.0 690.0,622.0 700.0,614.0 710.0,608.0 720.0,604.4 728.0,605.0 738.0,607.0 750.0,612.0 764.0,618.4 776.0,625.0 788.0,633.0 796.0,640.0 806.0,650.0 814.0,656.0 830.0,672.0 844.0,690.0 860.0,704.0 872.0,710.4 886.0,710.4 900.0,706.0 914.0,699.0 930.0,692.0 944.0,685.0 960.0,678.0 975.0,673.0" fill="none" stroke="#ffff00" stroke-width="1" shape-rendering="crispEdges"/>
<polyline points="4.0,706.4 12.0,701.0 26.0,695.0 34.0,689.0 41.0,685.6 48.0,675.0 56.0,664.0 68.0,654.0 78.0,644.0 90.0,637.6 98.0,636.0 112.0,640.0 120.0,641.6 128.0,644.4 140.0,642.4 150.0,637.0 164.0,630.6 178.0,630.6 192.0,644.0 200.0,647.6 208.0,647.6 220.0,664.0 230.0,674.0 242.0,692.0 250.0,698.0 260.0,701.4 270.0,699.6 280.0,695.0 290.0,688.0 298.0,681.0 304.0,675.0 314.0,672.0 328.0,670.6 344.0,670.6 354.0,665.0 364.0,661.0 376.0,660.4 384.0,661.6 396.0,661.6 400.0,661.0 409.0,658.4 422.0,663.4 436.0,662.0 450.0,659.6 462.0,657.0 475.0,653.6 486.0,644.4 498.0,636.0 510.0,629.6 519.0,627.2 528.0,632.0 534.0,633.0 540.0,630.4 548.0,634.0 558.0,637.0 566.0,638.0 576.0,644.0 584.0,648.0 592.0,654.4 600.0,654.6 606.0,653.0 620.0,644.4 632.0,639.6 642.0,634.4 656.0,635.6 671.0,629.0 680.0,612.0 686.0,602.0 692.0,594.4 700.0,591.0 708.0,590.6 718.0,596.0 728.0,605.0 736.0,614.0 744.0,619.0 750.0,626.0 758.0,630.0 766.0,632.4 776.0,642.0 788.0,652.0 796.0,665.0 806.0,676.0 810.0,680.0 820.0,690.0 830.0,706.0 840.0,718.0 848.0,725.0 854.0,727.6 860.0,727.6 868.0,723.6 880.0,714.0 890.0,705.0 902.0,692.0 912.0,687.0 924.0,684.4 936.0,676.0 944.0,672.4 954.0,670.0 964.0,665.0 975.0,659.0" fill="none" stroke="#ffffff" stroke-width="1" shape-rendering="crispEdges"/>
<rect x="374" y="17" width="2" height="2" fill="#ff00ff" shape-rendering="crispEdges"/>
<rect x="605" y="17" width="2" height="2" fill="#ff00ff" shape-rendering="crispEdges"/>
<rect x="649" y="17" width="2" height="2" fill="#ff00ff" shape-rendering="crispEdges"/>
<rect x="750" y="17" width="2" height="2" fill="#ff00ff" shape-rendering="crispEdges"/>
<rect x="787" y="17" width="2" height="2" fill="#ff00ff" shape-rendering="crispEdges"/>
<rect x="866" y="17" width="2" height="2" fill="#ff00ff" shape-rendering="crispEdges"/>
<g font-size="12px">
<text x="2" y="12" fill="#fff" textLength="118" lengthAdjust="spacingAndGlyphs">杰瑞股份(日线.前复权)</text>
<path d="M125.5 3.5 h7.5 l-3.75 7.5 z" fill="none" stroke="#ffffff" stroke-width="1"/>
<text x="137" y="12" fill="#fff" textLength="58" lengthAdjust="spacingAndGlyphs">MA5: 17.04</text>
<text x="201.5" y="12" fill="#ffff00" textLength="66" lengthAdjust="spacingAndGlyphs">MA10: 16.80</text>
<text x="273.5" y="12" fill="#ff00ff" textLength="66" lengthAdjust="spacingAndGlyphs">MA20: 16.21</text>
<text x="346" y="12" fill="#00e000" textLength="45" lengthAdjust="spacingAndGlyphs">MA250: -</text>
<path d="M2.5 419.5 h7.5 l-3.75 7.5 z" fill="none" stroke="#ffffff" stroke-width="1"/>
<text x="13.5" y="428" fill="#fff" textLength="105.5" lengthAdjust="spacingAndGlyphs">VOLUME: 94123.47</text>
<text x="125" y="428" fill="#fff" textLength="87.5" lengthAdjust="spacingAndGlyphs">MA5: 108924.02</text>
<text x="218.5" y="428" fill="#ffff00" textLength="86.5" lengthAdjust="spacingAndGlyphs">MA10: 91884.79</text>
<path d="M2.5 573.5 h7.5 l-3.75 7.5 z" fill="none" stroke="#ffffff" stroke-width="1"/>
<text x="13.5" y="582" fill="#fff" textLength="81.5" lengthAdjust="spacingAndGlyphs">MACD(12,26,9)</text>
<text x="101.5" y="582" fill="#fff" textLength="47.5" lengthAdjust="spacingAndGlyphs">DIF: 0.14</text>
<text x="156" y="582" fill="#ffff00" textLength="56" lengthAdjust="spacingAndGlyphs">DEA: -0.04</text>
<text x="218.5" y="582" fill="#ff00ff" textLength="62.5" lengthAdjust="spacingAndGlyphs">MACD: 0.36</text>
</g>
<g font-size="12px" fill="#e8e8e8">
<text x="257" y="401.5" textLength="29" lengthAdjust="spacingAndGlyphs">12.33</text>
<text x="700" y="29" textLength="29" lengthAdjust="spacingAndGlyphs">20.56</text>
</g>
<g fill="none" stroke="#e8e8e8" stroke-width="1">
<path d="M243.5 395.5 H256 M243.5 395.5 l2.5 -2.5 M243.5 395.5 l2.5 2.5"/>
<path d="M686 19.5 q5 0 11 4 M686 19.5 l1 4 M686 19.5 l4 -1"/>
</g>
<path d="M206 401 h10 l3 3 v10 h-13 z" fill="#008000"/>
<text x="206.5" y="412" font-size="12px" fill="#fff">跌</text>
<path d="M638 407 h5.5 l-2.75 -3.5 z" fill="#ff0000"/>
<text x="637.5" y="415" font-size="10px" font-weight="bold" fill="#ff0000" textLength="6.5" lengthAdjust="spacingAndGlyphs">S</text>
<polygon points="340.8,250.3 376.7,281.2 372.1,281.5 387.0,285.0 379.6,271.5 380.6,276.1 341.2,249.7" fill="#ffb400"/>
<polygon points="311.7,363.8 384.8,426.4 380.2,426.6 395.0,430.5 388.0,416.8 388.9,421.4 312.3,363.2" fill="#ffb400"/>
<polygon points="322.3,515.3 383.6,461.6 383.1,466.1 389.0,452.0 374.5,457.0 379.1,456.8 321.7,514.7" fill="#ffb400"/>
<polygon points="322.4,659.1 397.1,481.0 398.6,485.3 398.0,470.0 387.0,480.7 391.1,478.5 321.6,658.9" fill="#ffb400"/>
<g fill="none" stroke="#ffb400" stroke-width="3">
<ellipse cx="281" cy="353" rx="15.5" ry="14"/>
<ellipse cx="292.5" cy="543" rx="15" ry="14.5"/>
<ellipse cx="290" cy="686" rx="13.5" ry="14.5"/>
</g>
<text x="23.5" y="57.5" font-size="33px" fill="#ffb400">杰瑞股份</text>
<text x="255.5" y="253" font-size="21px" fill="#ffb400">均线粘合</text>
<text x="404.5" y="461.5" font-size="21.3px" fill="#ffb400">三线金叉共振</text>
<text x="738.5" y="32.5" font-size="21.5px" fill="#ffb400" textLength="150" lengthAdjust="spacingAndGlyphs">2018年5月21日</text>
<g>
<text x="881" y="745" font-family="NanumGothic,sans-serif" font-size="49px" font-weight="800" fill="#a80000" stroke="#c6c6c6" stroke-width="5.5" stroke-linejoin="round" paint-order="stroke" transform="translate(895,745) skewX(-3) scale(1.0,1) translate(-895,-745)">1</text>
<text x="905" y="744.5" font-size="53px" font-weight="bold" fill="#a80000" textLength="26" lengthAdjust="spacingAndGlyphs">0</text>
<ellipse cx="917.7" cy="725.8" rx="15.2" ry="21.3" fill="#c6c6c6"/>
<ellipse cx="917.7" cy="725.8" rx="13.4" ry="19.2" fill="#a80000"/>
<g transform="translate(918.6,726.5) scale(0.6,1)" fill="#c6c6c6"><circle r="11"/><rect x="-2.6" y="-14.6" width="5.2" height="6" transform="rotate(10)"/><rect x="-2.6" y="-14.6" width="5.2" height="6" transform="rotate(55)"/><rect x="-2.6" y="-14.6" width="5.2" height="6" transform="rotate(100)"/><rect x="-2.6" y="-14.6" width="5.2" height="6" transform="rotate(145)"/><rect x="-2.6" y="-14.6" width="5.2" height="6" transform="rotate(190)"/><rect x="-2.6" y="-14.6" width="5.2" height="6" transform="rotate(235)"/><rect x="-2.6" y="-14.6" width="5.2" height="6" transform="rotate(280)"/><rect x="-2.6" y="-14.6" width="5.2" height="6" transform="rotate(325)"/></g><ellipse cx="918.9" cy="725.6" rx="3" ry="3.3" fill="#a80000"/>
<text x="944" y="723.5" font-size="23px" fill="#6c6c6c" stroke="#c6c6c6" stroke-width="6" stroke-linejoin="round" paint-order="stroke" textLength="68" lengthAdjust="spacingAndGlyphs">拾荒网</text>
<text x="933" y="743" font-size="18.5px" fill="#a80000" stroke="#c6c6c6" stroke-width="5.5" stroke-linejoin="round" paint-order="stroke" textLength="83" lengthAdjust="spacingAndGlyphs">Huang.CN</text>
<text x="992" y="752" font-size="12px" fill="#fff" textLength="23">日线</text>
</g>
</svg>
</body></html>
